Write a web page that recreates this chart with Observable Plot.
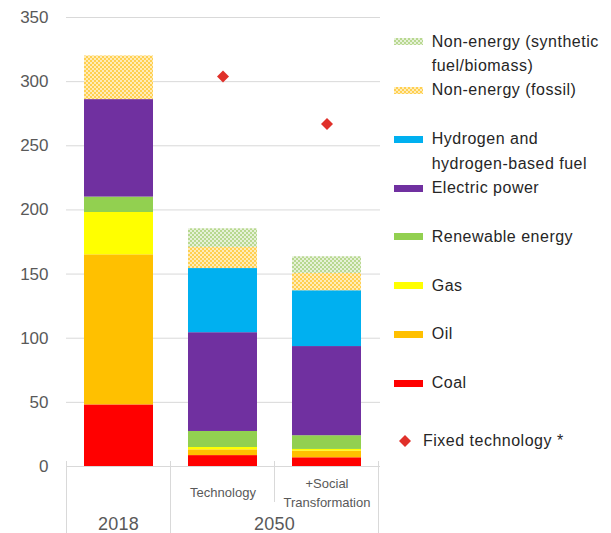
<!DOCTYPE html>
<html><head><meta charset="utf-8">
<script src="https://cdn.jsdelivr.net/npm/d3@7"></script>
<script src="https://cdn.jsdelivr.net/npm/@observablehq/plot@0.6"></script>
<style>
body{margin:0;background:#fff;font-family:"Liberation Sans",Arial,sans-serif;}
#wrap{position:relative;width:611px;height:533px;overflow:hidden;}
#legend{position:absolute;left:394px;top:29.5px;font-size:16px;letter-spacing:0.5px;color:#262626;}
.item{display:flex;align-items:flex-start;line-height:24.4px;}
.item .sw{flex:none;margin-top:8.7px;margin-right:8.7px;}
.item .tx{white-space:pre-line;}
</style></head><body><div id="wrap"></div>
<script>
// ---- data ----
const categories = ["2018", "Technology", "+Social Transformation"];
const categoryLabels = ["", "Technology", "+Social\nTransformation"];
const groupLabels = ["2018", "2050"];
const series = ["Coal", "Oil", "Gas", "Renewable energy", "Electric power",
  "Hydrogen and hydrogen-based fuel", "Non-energy (fossil)", "Non-energy (synthetic fuel/biomass)"];
const legendLabels = ["Coal", "Oil", "Gas", "Renewable energy", "Electric power",
  "Hydrogen and\nhydrogen-based fuel", "Non-energy (fossil)", "Non-energy (synthetic\nfuel/biomass)"];
const coal = [48, 8.5, 6.8];
const oil = [117, 4.5, 5.2];
const gas = [33, 1.8, 1.3];
const renewable = [12, 12.5, 10.7];
const electric = [76, 77, 69.5];
const hydrogen = [0, 50, 43.5];
const nonEnergyFossil = [34, 16.5, 13.5];
const nonEnergySynthetic = [0, 14.5, 13];
const fixedTechnology = [null, 304, 267];
const fixedLabel = "Fixed technology *";
const yTicks = [0, 50, 100, 150, 200, 250, 300, 350];

// ---- styles ----
const seriesColors = ["#FF0000", "#FFC000", "#FFFF00", "#92D050", "#7030A0", "#00B0F0", "url(#pFossil)", "url(#pSynth)"];
const diamondColor = "#E0302A";
const gridColor = "#d9d9d9";
const textGray = "#595959";

const seriesValues = [coal, oil, gas, renewable, electric, hydrogen, nonEnergyFossil, nonEnergySynthetic];
const rows = [];
categories.forEach((c, i) => series.forEach((s, j) => rows.push({cat: c, series: s, value: seriesValues[j][i]})));
const fixedRows = categories.map((c, i) => ({cat: c, value: fixedTechnology[i]})).filter(d => d.value != null);
const labelRows = categories.map((c, i) => ({cat: c, label: categoryLabels[i]}));

const plot = Plot.plot({
  width: 611, height: 533,
  marginLeft: 66, marginRight: 231, marginTop: 17, marginBottom: 67,
  style: {fontFamily: "'Liberation Sans', Arial, sans-serif", background: "white", color: textGray},
  x: {domain: categories, paddingInner: 1/3, paddingOuter: 1/6, axis: null},
  y: {domain: [0, 350]},
  color: {domain: series, range: seriesColors},
  marks: [
    Plot.gridY(yTicks, {stroke: gridColor, strokeOpacity: 1, strokeWidth: 1}),
    Plot.axisY(yTicks, {tickSize: 0, tickPadding: 18, fontSize: 17, fill: textGray, label: null, style: "letter-spacing:0.6px"}),
    Plot.barY(rows, {x: "cat", y: "value", fill: "series"}),
    Plot.dot(fixedRows, {x: "cat", y: "value", symbol: "diamond2", r: 5.4, fill: diamondColor, stroke: null}),
    Plot.text(labelRows, {x: "cat", text: "label", frameAnchor: "bottom", dy: 24.7, lineAnchor: "middle",
      lineHeight: 1.46, fontSize: 13, fill: textGray})
  ]
});

// patterns
const svg = d3.select(plot);
const defs = svg.insert("defs", ":first-child");
function pattern(id, base, op) {
  const p = defs.append("pattern").attr("id", id).attr("patternUnits", "userSpaceOnUse").attr("width", 4).attr("height", 4);
  p.append("rect").attr("width", 4).attr("height", 4).attr("fill", base);
  p.append("rect").attr("width", 2).attr("height", 2).attr("fill", "white").attr("fill-opacity", op);
  p.append("rect").attr("x", 2).attr("y", 2).attr("width", 2).attr("height", 2).attr("fill", "white").attr("fill-opacity", op);
}
pattern("pFossil", "#FFD050", 0.6);
pattern("pSynth", "#B8D890", 0.65);

// category separators and group labels, from the plot's own scales
const xs = plot.scale("x"), ys = plot.scale("y");
const gap = (xs.step - xs.bandwidth) / 2;
const y0 = ys.apply(0);
const H = 533;
const g = svg.append("g").attr("stroke", gridColor);
const bounds = [xs.apply(categories[0]) - gap, xs.apply(categories[1]) - gap, xs.apply(categories[2]) - gap,
  xs.apply(categories[2]) + xs.bandwidth + gap];
const bottoms = [H, H, y0 + 36, H];
bounds.forEach((bx, i) => g.append("line").attr("x1", bx).attr("x2", bx).attr("y1", y0 - 5).attr("y2", bottoms[i]));
const c0 = xs.apply(categories[0]) + xs.bandwidth / 2;
const c1 = (xs.apply(categories[1]) + xs.apply(categories[2]) + xs.bandwidth) / 2;
svg.append("g").attr("fill", textGray).attr("font-size", 18).attr("text-anchor", "middle").attr("letter-spacing", "0.3px")
  .selectAll("text").data(groupLabels).join("text")
  .attr("x", (d, i) => i === 0 ? c0 : c1).attr("y", y0 + 58).attr("dy", "0.35em").text(d => d);

const wrap = document.getElementById("wrap");
wrap.appendChild(plot);

// legend
const legend = document.createElement("div");
legend.id = "legend";
const order = series.map((s, i) => i).reverse();
const tight = new Set(["Non-energy (synthetic fuel/biomass)", "Hydrogen and hydrogen-based fuel"]);
order.forEach(i => {
  const it = document.createElement("div");
  it.className = "item";
  it.style.marginBottom = tight.has(series[i]) ? "0px" : (series[i] === "Coal" ? "33.3px" : "24.4px");
  it.innerHTML = `<svg class="sw" width="29" height="7"><rect width="29" height="7" fill="${seriesColors[i]}"/></svg><div class="tx"></div>`;
  it.querySelector(".tx").textContent = legendLabels[i];
  legend.appendChild(it);
});
const fx = document.createElement("div");
fx.className = "item";
fx.innerHTML = `<svg width="29" height="24" style="flex:none"><path d="M11,6 L17,12 L11,18 L5,12 Z" fill="${diamondColor}"/></svg><div class="tx"></div>`;
fx.querySelector(".tx").textContent = fixedLabel;
legend.appendChild(fx);
wrap.appendChild(legend);
</script></body></html>
